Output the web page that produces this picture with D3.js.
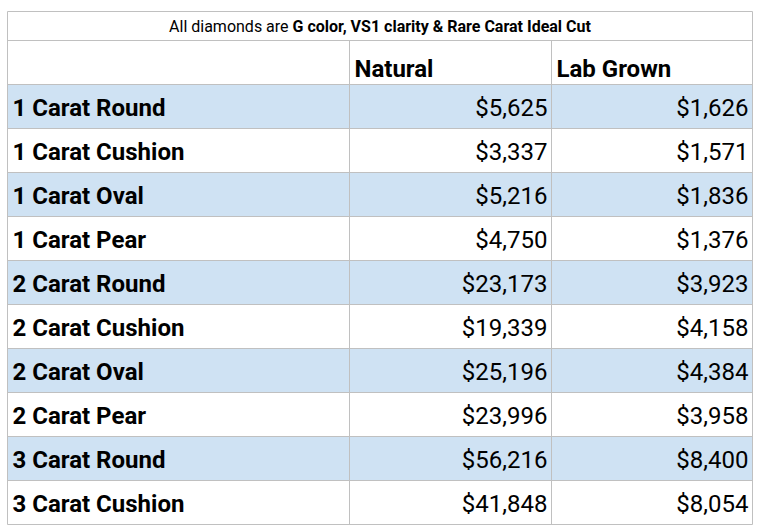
<!DOCTYPE html><html><head><meta charset="utf-8"><script src="https://cdn.jsdelivr.net/npm/d3@7"></script>
<style>body{margin:0;background:#fff}</style></head><body><svg id="c" width="759" height="529"></svg>
<script>
const categories=["1 Carat Round","1 Carat Cushion","1 Carat Oval","1 Carat Pear","2 Carat Round","2 Carat Cushion","2 Carat Oval","2 Carat Pear","3 Carat Round","3 Carat Cushion"];
const natural=[5625,3337,5216,4750,23173,19339,25196,23996,56216,41848];
const labGrown=[1626,1571,1836,1376,3923,4158,4384,3958,8400,8054];
const headers=["","Natural","Lab Grown"];
const svg=d3.select("#c");
const x0=7.5,x1=349.5,x2=551.5,x3=752.5,yT=11.5,yH=40.5,yD=84.5,rowH=44;
const y=d3.scaleBand().domain(d3.range(categories.length)).range([yD,yD+rowH*categories.length]);
const fmt=d3.format("$,");
const f="Roboto, sans-serif";
// rows bg
svg.selectAll("rect.bg").data(categories).join("rect").attr("x",x0).attr("y",(d,i)=>y(i)).attr("width",x3-x0).attr("height",rowH).attr("fill",(d,i)=>i%2==0?"#cfe2f3":"#fff");
const line=(a,b,c,d)=>svg.append("line").attr("x1",a).attr("y1",b).attr("x2",c).attr("y2",d).attr("stroke","#c0c0c0").attr("stroke-width",1);
const yEnd=yD+rowH*categories.length;
line(x0,yT,x3,yT);line(x0,yH,x3,yH);
categories.forEach((d,i)=>line(x0,y(i),x3,y(i)));line(x0,yEnd,x3,yEnd);
line(x0,yT,x0,yEnd);line(x3,yT,x3,yEnd);line(x1,yH,x1,yEnd);line(x2,yH,x2,yEnd);
// title
const t=svg.append("text").attr("x",(x0+x3)/2).attr("y",32).attr("text-anchor","middle").attr("font-family",f).attr("font-size",16).attr("fill","#000");
t.append("tspan").text("All diamonds are ");
t.append("tspan").attr("font-weight","bold").text("G color, VS1 clarity & Rare Carat Ideal Cut");
// headers
[x0,x1,x2].forEach((x,i)=>svg.append("text").attr("x",x+5).attr("y",yD-8).attr("font-family",f).attr("font-weight","bold").attr("font-size",24).text(headers[i]));
const g=svg.append("g").attr("font-family",f).attr("font-size",24);
g.selectAll("text.c").data(categories).join("text").attr("x",x0+5).attr("y",(d,i)=>y(i)+rowH-13).attr("font-weight","bold").text(d=>d);
g.selectAll("text.n").data(natural).join("text").attr("x",x2-4).attr("y",(d,i)=>y(i)+rowH-13).attr("text-anchor","end").text(d=>fmt(d));
g.selectAll("text.l").data(labGrown).join("text").attr("x",x3-4).attr("y",(d,i)=>y(i)+rowH-13).attr("text-anchor","end").text(d=>fmt(d));
</script></body></html>
